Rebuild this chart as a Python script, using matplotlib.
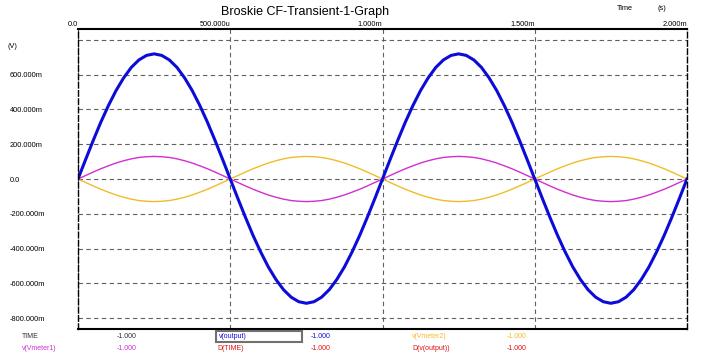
import numpy as np
import matplotlib
matplotlib.use("Agg")
import matplotlib.pyplot as plt

plt.rcParams['font.family'] = ['Liberation Sans', 'DejaVu Sans']

# time samples (ms), every 0.025 ms
t_ms = [0.000, 0.025, 0.050, 0.075, 0.100, 0.125, 0.150, 0.175, 0.200, 0.225,
        0.250, 0.275, 0.300, 0.325, 0.350, 0.375, 0.400, 0.425, 0.450, 0.475,
        0.500, 0.525, 0.550, 0.575, 0.600, 0.625, 0.650, 0.675, 0.700, 0.725,
        0.750, 0.775, 0.800, 0.825, 0.850, 0.875, 0.900, 0.925, 0.950, 0.975,
        1.000, 1.025, 1.050, 1.075, 1.100, 1.125, 1.150, 1.175, 1.200, 1.225,
        1.250, 1.275, 1.300, 1.325, 1.350, 1.375, 1.400, 1.425, 1.450, 1.475,
        1.500, 1.525, 1.550, 1.575, 1.600, 1.625, 1.650, 1.675, 1.700, 1.725,
        1.750, 1.775, 1.800, 1.825, 1.850, 1.875, 1.900, 1.925, 1.950, 1.975,
        2.000]

# v(output) in volts
v_output = [0.000, 0.112, 0.222, 0.327, 0.423, 0.509, 0.582, 0.642, 0.685, 0.711,
            0.720, 0.711, 0.685, 0.642, 0.582, 0.509, 0.423, 0.327, 0.222, 0.112,
            0.000, -0.112, -0.221, -0.325, -0.420, -0.506, -0.578, -0.637, -0.680, -0.706,
            -0.715, -0.706, -0.680, -0.637, -0.578, -0.506, -0.420, -0.325, -0.221, -0.112,
            0.000, 0.112, 0.222, 0.327, 0.423, 0.509, 0.582, 0.642, 0.685, 0.711,
            0.720, 0.711, 0.685, 0.642, 0.582, 0.509, 0.423, 0.327, 0.222, 0.112,
            0.000, -0.112, -0.221, -0.325, -0.420, -0.506, -0.578, -0.637, -0.680, -0.706,
            -0.715, -0.706, -0.680, -0.637, -0.578, -0.506, -0.420, -0.325, -0.221, -0.112,
            0.000]

# v(Vmeter1)
v_meter1 = [0.000, 0.020, 0.040, 0.059, 0.076, 0.092, 0.105, 0.116, 0.124, 0.128,
            0.130, 0.128, 0.124, 0.116, 0.105, 0.092, 0.076, 0.059, 0.040, 0.020,
            0.000, -0.020, -0.040, -0.059, -0.076, -0.092, -0.105, -0.116, -0.124, -0.128,
            -0.130, -0.128, -0.124, -0.116, -0.105, -0.092, -0.076, -0.059, -0.040, -0.020,
            0.000, 0.020, 0.040, 0.059, 0.076, 0.092, 0.105, 0.116, 0.124, 0.128,
            0.130, 0.128, 0.124, 0.116, 0.105, 0.092, 0.076, 0.059, 0.040, 0.020,
            0.000, -0.020, -0.040, -0.059, -0.076, -0.092, -0.105, -0.116, -0.124, -0.128,
            -0.130, -0.128, -0.124, -0.116, -0.105, -0.092, -0.076, -0.059, -0.040, -0.020,
            0.000]

# v(Vmeter2)
v_meter2 = [0.000, -0.020, -0.040, -0.059, -0.076, -0.092, -0.105, -0.116, -0.124, -0.128,
            -0.130, -0.128, -0.124, -0.116, -0.105, -0.092, -0.076, -0.059, -0.040, -0.020,
            0.000, 0.020, 0.040, 0.059, 0.076, 0.092, 0.105, 0.116, 0.124, 0.128,
            0.130, 0.128, 0.124, 0.116, 0.105, 0.092, 0.076, 0.059, 0.040, 0.020,
            0.000, -0.020, -0.040, -0.059, -0.076, -0.092, -0.105, -0.116, -0.124, -0.128,
            -0.130, -0.128, -0.124, -0.116, -0.105, -0.092, -0.076, -0.059, -0.040, -0.020,
            0.000, 0.020, 0.040, 0.059, 0.076, 0.092, 0.105, 0.116, 0.124, 0.128,
            0.130, 0.128, 0.124, 0.116, 0.105, 0.092, 0.076, 0.059, 0.040, 0.020,
            0.000]

x_ticks = [0.0, 0.5, 1.0, 1.5, 2.0]
x_labels = ['0.0', '500.000u', '1.000m', '1.500m', '2.000m']
y_ticks = [-0.8, -0.6, -0.4, -0.2, 0.0, 0.2, 0.4, 0.6, 0.8]
y_labels = ['-800.000m', '-600.000m', '-400.000m', '-200.000m', '0.0',
            '200.000m', '400.000m', '600.000m', '']

c_blue = '#0c0cd8'
c_mag = '#d22ed2'
c_orange = '#f2bc28'
c_red = '#e01010'

fig = plt.figure(figsize=(7.09, 3.60), dpi=100)
ax = fig.add_axes([78 / 709, 31 / 360, 609 / 709, 300 / 360])

ax.plot(t_ms, v_meter2, color=c_orange, lw=1.0)
ax.plot(t_ms, v_meter1, color=c_mag, lw=1.0)
ax.plot(t_ms, v_output, color=c_blue, lw=2.2)

ax.set_xlim(0, 2.0)
ax.set_ylim(-0.863, 0.863)

ax.xaxis.tick_top()
ax.set_xticks(x_ticks)
ax.set_xticklabels(x_labels, fontsize=5.3, ha='right')
ax.set_yticks(y_ticks)
ax.set_yticklabels(y_labels, fontsize=5.3, ha='left')
ax.tick_params(axis='both', length=0)
ax.tick_params(axis='x', pad=0.5)
ax.tick_params(axis='y', pad=49)

ax.grid(True, color='#606060', lw=0.8, ls=(0, (4, 3)))
for s in ['top', 'bottom']:
    ax.spines[s].set_linewidth(1.5)
for s in ['left', 'right']:
    ax.spines[s].set_linestyle((0, (4, 2)))
    ax.spines[s].set_linewidth(1.0)

fig.text(305 / 709, 1 - 12 / 360, 'Broskie CF-Transient-1-Graph', fontsize=9.0,
         ha='center', va='center')
fig.text(617 / 709, 1 - 9 / 360, 'Time', fontsize=5.3, va='center')
fig.text(657 / 709, 1 - 9 / 360, '(s)', fontsize=5.3, va='center')
fig.text(7 / 709, 1 - 47 / 360, '(V)', fontsize=5.3, va='center')

# cursor readout rows
row1 = 1 - 336 / 360
row2 = 1 - 349 / 360
fs = 5.0
fig.text(22 / 709, row1, 'TIME', fontsize=fs, color='#303030', va='center')
fig.text(117 / 709, row1, '-1.000', fontsize=fs, color='#303030', va='center')
fig.text(219 / 709, row1, 'v(output)', fontsize=fs, color=c_blue, va='center')
fig.text(311 / 709, row1, '-1.000', fontsize=fs, color=c_blue, va='center')
fig.text(412 / 709, row1, 'v(Vmeter2)', fontsize=fs, color=c_orange, va='center')
fig.text(507 / 709, row1, '-1.000', fontsize=fs, color=c_orange, va='center')
fig.text(22 / 709, row2, 'v(Vmeter1)', fontsize=fs, color=c_mag, va='center')
fig.text(117 / 709, row2, '-1.000', fontsize=fs, color=c_mag, va='center')
fig.text(217 / 709, row2, 'D(TIME)', fontsize=fs, color=c_red, va='center')
fig.text(311 / 709, row2, '-1.000', fontsize=fs, color=c_red, va='center')
fig.text(412 / 709, row2, 'D(v(output))', fontsize=fs, color=c_red, va='center')
fig.text(507 / 709, row2, '-1.000', fontsize=fs, color=c_red, va='center')

box = plt.Rectangle((216 / 709, 1 - 342 / 360), 86 / 709, 11 / 360,
                    transform=fig.transFigure, fill=False, ec='#707070', lw=1.5)
fig.patches.append(box)

fig.savefig('out.png', dpi=100)
